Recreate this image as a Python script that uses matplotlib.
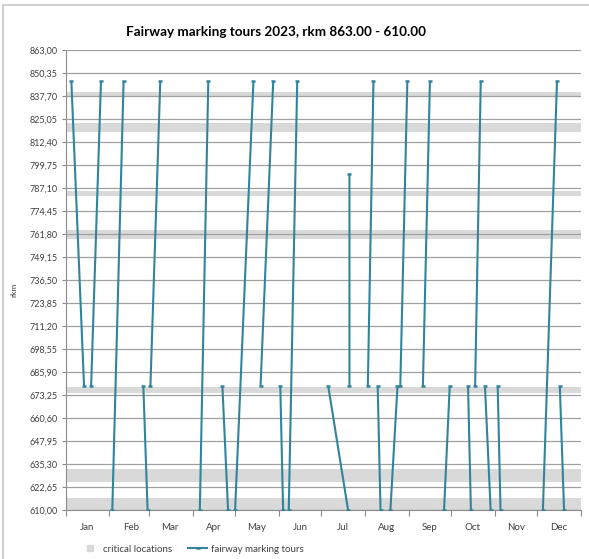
import numpy as np
import pandas as pd
import matplotlib
matplotlib.use("Agg")
import matplotlib.pyplot as plt
import matplotlib.dates as mdates
from matplotlib.lines import Line2D
from matplotlib.patches import Rectangle

plt.rcParams['font.family'] = ['Lato', 'DejaVu Sans']

# --- data -------------------------------------------------------------
# each tour: start day / start rkm -> end day / end rkm
tour_start_date = ['2023-01-05', '2023-01-19', '2023-02-03', '2023-02-25', '2023-03-02',
                   '2023-04-06', '2023-04-22', '2023-05-01', '2023-05-19', '2023-06-02',
                   '2023-06-08', '2023-07-06', '2023-07-21', '2023-08-03', '2023-08-10',
                   '2023-08-19', '2023-08-26', '2023-09-11', '2023-09-26', '2023-10-13',
                   '2023-10-18', '2023-10-25', '2023-11-03', '2023-12-05', '2023-12-17']
tour_start_rkm = [846, 678, 610, 678, 678,
                  610, 678, 610, 678, 678,
                  610, 678, 678, 678, 678,
                  610, 678, 678, 610, 678,
                  678, 678, 678, 610, 678]
tour_end_date = ['2023-01-14', '2023-01-26', '2023-02-11', '2023-02-28', '2023-03-09',
                 '2023-04-12', '2023-04-26', '2023-05-14', '2023-05-28', '2023-06-04',
                 '2023-06-14', '2023-07-20', '2023-07-21', '2023-08-07', '2023-08-12',
                 '2023-08-24', '2023-08-31', '2023-09-16', '2023-09-30', '2023-10-15',
                 '2023-10-22', '2023-10-29', '2023-11-05', '2023-12-15', '2023-12-20']
tour_end_rkm = [678, 846, 846, 610, 846,
                846, 610, 846, 846, 610,
                846, 610, 795, 846, 610,
                678, 846, 846, 678, 610,
                846, 610, 610, 846, 610]

# critical river sections (rkm from - to)
critical_from = [610.0, 625.4, 674.2, 758.9, 782.9, 818.1, 837.5]
critical_to = [616.4, 632.4, 677.5, 764.0, 785.4, 822.7, 839.7]

month_labels = ['Jan', 'Feb', 'Mar', 'Apr', 'May', 'Jun',
                'Jul', 'Aug', 'Sep', 'Oct', 'Nov', 'Dec']
rkm_min, rkm_max, rkm_step = 610.00, 863.00, 12.65

title = 'Fairway marking tours 2023, rkm 863.00 - 610.00'

# --- build one series with gaps between tours --------------------------
xs, ys = [], []
for sd, sr, ed, er in zip(tour_start_date, tour_start_rkm, tour_end_date, tour_end_rkm):
    xs += [mdates.date2num(pd.Timestamp(sd)), mdates.date2num(pd.Timestamp(ed)), np.nan]
    ys += [sr, er, np.nan]

line_color = '#31849B'
band_color = '#D9D9D9'
grid_color = '#A0A0A0'
axis_color = '#8C8C8C'
text_color = '#404040'

fig = plt.figure(figsize=(5.89, 5.59), dpi=100)
ax = fig.add_axes([65.7 / 589, 1 - 510 / 559, (581 - 65.7) / 589, 460 / 559])

# outer chart frame
fig.patches.append(Rectangle((3 / 589, -0.1), 1.2, 1 - 5 / 559 + 0.1,
                             transform=fig.transFigure, fill=False,
                             edgecolor='#D0D0D0', linewidth=1.5))

for lo, hi in zip(critical_from, critical_to):
    ax.axhspan(lo, hi, color=band_color, zorder=1, linewidth=0)

ax.plot(xs, ys, color=line_color, linewidth=1.5, marker='_',
        markersize=3.5, markeredgewidth=1.8, zorder=3, solid_capstyle='butt')

# axes ranges
x0 = mdates.date2num(pd.Timestamp('2023-01-01'))
x1 = mdates.date2num(pd.Timestamp('2024-01-01'))
ax.set_xlim(x0, x1)
ax.set_ylim(rkm_min, rkm_max)

yticks = np.round(np.arange(rkm_min, rkm_max + 0.001, rkm_step), 2)
ax.set_yticks(yticks)
ax.set_yticklabels([f'{v:.2f}'.replace('.', ',') for v in yticks])

month_starts = pd.date_range('2023-01-01', '2024-01-01', freq='MS')
ax.set_xticks(mdates.date2num(month_starts))
ax.set_xticklabels([])
mid = [pd.Timestamp(f'2023-{m:02d}-16') for m in range(1, 13)]
ax.set_xticks(mdates.date2num(mid), minor=True)
ax.set_xticklabels(month_labels, minor=True)

ax.tick_params(axis='x', which='major', length=4, width=0.8, color=axis_color, direction='out')
ax.tick_params(axis='x', which='minor', length=0, pad=9, labelsize=7, labelcolor=text_color)
ax.tick_params(axis='y', length=3, width=0.8, color=axis_color, pad=3,
               labelsize=6.5, labelcolor=text_color)

ax.set_axisbelow(False)
ax.yaxis.grid(True, color=grid_color, linewidth=0.9, zorder=2.5)
ax.xaxis.grid(False)

for side in ('top', 'right'):
    ax.spines[side].set_visible(False)
for side in ('left', 'bottom'):
    ax.spines[side].set_color(axis_color)
    ax.spines[side].set_linewidth(0.8)

ax.set_ylabel('rkm', fontsize=6, color=text_color)
ax.yaxis.set_label_coords(-0.0945, 0.478)

fig.text(276 / 589, 1 - 32 / 559, title, ha='center', va='center',
         fontsize=9.7, fontweight='bold', color='#000000')

handles = [Line2D([], [], marker='s', linestyle='none', color=band_color, markersize=5),
           Line2D([], [], color=line_color, linewidth=1.5, marker='_',
                  markersize=3.5, markeredgewidth=1.8)]
fig.legend(handles, ['critical locations', 'fairway marking tours'],
           loc='center left', bbox_to_anchor=(80 / 589, 1 - 549 / 559),
           ncol=2, frameon=False, fontsize=7, handlelength=2.0,
           handletextpad=0.4, columnspacing=1.6, labelcolor=text_color,
           borderaxespad=0, borderpad=0)

fig.savefig('out.png', dpi=100)
